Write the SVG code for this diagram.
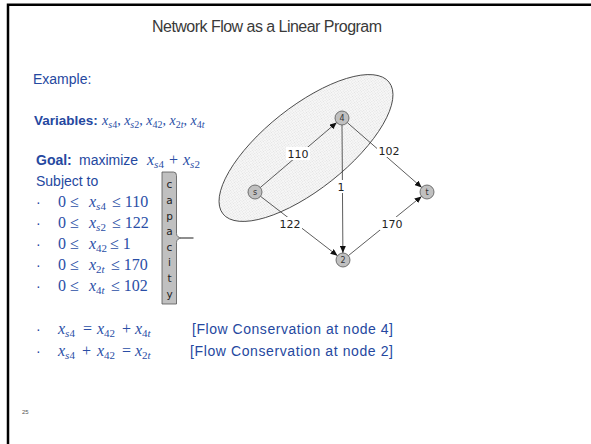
<svg xmlns="http://www.w3.org/2000/svg" width="591" height="444" viewBox="0 0 591 444">
<style>
.t{font-family:"Liberation Sans",Arial,sans-serif;font-size:14px;fill:#2548a0}
.b{font-weight:bold}
.m{font-family:"Liberation Serif","Times New Roman",serif;font-size:16px;fill:#2a4ea6}
.v{font-family:"Liberation Serif","Times New Roman",serif;font-size:14px;fill:#2a4ea6}
.i{font-style:italic}
.s{font-size:11px}
.vs{font-size:10px}
.edge{stroke:#333;stroke-width:0.8;fill:none;marker-end:url(#arr)}
.node circle{fill:#c0c0c0;stroke:#555;stroke-width:0.8}
.nl{font-family:"DejaVu Sans",sans-serif;font-size:8px;fill:#333;text-anchor:middle}
.el{font-family:"DejaVu Sans",sans-serif;font-size:11px;fill:#222;text-anchor:middle}
.cap{font-family:"DejaVu Sans",sans-serif;font-size:10.5px;fill:#222;text-anchor:middle}
</style>
<defs>
<marker id="arr" markerWidth="7" markerHeight="6" refX="7" refY="3" orient="auto" markerUnits="userSpaceOnUse">
<path d="M0,0 L7,3 L0,6 z" fill="#111"/>
</marker>
<pattern id="dots" width="2" height="2" patternUnits="userSpaceOnUse">
<rect width="2" height="2" fill="#f7f7f7"/>
<rect width="1" height="1" fill="#e0e0e0"/>
</pattern>
</defs>
<rect width="591" height="444" fill="#fff"/>
<path d="M8,444 V4.8 H591" fill="none" stroke="#000" stroke-width="2.5"/>
<text x="267" y="32" text-anchor="middle" textLength="230" lengthAdjust="spacing" style="font-family:'Liberation Sans',Arial,sans-serif;font-size:16px;fill:#3a3a3a">Network Flow as a Linear Program</text>
<text class="t" x="33" y="84">Example:</text>
<text y="125"><tspan class="t b" x="34" style="font-size:13.5px">Variables:</tspan><tspan class="v i" x="102">x</tspan><tspan class="v vs i" dy="3">s</tspan><tspan class="v vs">4</tspan><tspan class="v" dy="-3">, </tspan><tspan class="v i">x</tspan><tspan class="v vs i" dy="3">s</tspan><tspan class="v vs">2</tspan><tspan class="v" dy="-3">, </tspan><tspan class="v i">x</tspan><tspan class="v vs" dy="3">42</tspan><tspan class="v" dy="-3">, </tspan><tspan class="v i">x</tspan><tspan class="v vs" dy="3">2</tspan><tspan class="v vs i">t</tspan><tspan class="v" dy="-3">, </tspan><tspan class="v i">x</tspan><tspan class="v vs" dy="3">4</tspan><tspan class="v vs i">t</tspan></text>
<text y="165"><tspan class="t b" x="36">Goal:</tspan><tspan class="t" x="79">maximize</tspan><tspan class="m i" x="147">x</tspan><tspan class="m s i" dy="3">s</tspan><tspan class="m s">4</tspan><tspan class="m" x="169" dy="-3">+</tspan><tspan class="m i" x="183">x</tspan><tspan class="m s i" dy="3">s</tspan><tspan class="m s">2</tspan></text>
<text class="t" x="36" y="186">Subject to</text>
<g id="constraints">
<text class="t" x="36" y="207">·</text>
<text class="m" y="207"><tspan x="58">0 ≤</tspan><tspan x="89" class="i">x</tspan><tspan class="s i" dy="3">s</tspan><tspan class="s">4</tspan><tspan x="112" dy="-3">≤ 110</tspan></text>
<text class="t" x="36" y="228">·</text>
<text class="m" y="228"><tspan x="58">0 ≤</tspan><tspan x="89" class="i">x</tspan><tspan class="s i" dy="3">s</tspan><tspan class="s">2</tspan><tspan x="112" dy="-3">≤ 122</tspan></text>
<text class="t" x="36" y="249">·</text>
<text class="m" y="249"><tspan x="58">0 ≤</tspan><tspan x="89" class="i">x</tspan><tspan class="s" dy="3">42</tspan><tspan x="110" dy="-3">≤ 1</tspan></text>
<text class="t" x="36" y="270">·</text>
<text class="m" y="270"><tspan x="58">0 ≤</tspan><tspan x="89" class="i">x</tspan><tspan class="s" dy="3">2</tspan><tspan class="s i">t</tspan><tspan x="111" dy="-3">≤ 170</tspan></text>
<text class="t" x="36" y="291">·</text>
<text class="m" y="291"><tspan x="58">0 ≤</tspan><tspan x="89" class="i">x</tspan><tspan class="s" dy="3">4</tspan><tspan class="s i">t</tspan><tspan x="111" dy="-3">≤ 102</tspan></text>
</g>
<g id="capacity">
<path d="M162,172 H173.5 Q176.5,172 176.5,175.5 V233.5 Q176.5,237.5 182,238 Q176.5,238.5 176.5,242.5 V304 H162 Z" fill="#c0c0c0" stroke="#555" stroke-width="0.8"/>
<line x1="182" y1="238" x2="193.5" y2="238" stroke="#444" stroke-width="1.2"/>
<text class="cap" x="169.5" y="188">c</text>
<text class="cap" x="169.5" y="204">a</text>
<text class="cap" x="169.5" y="220">p</text>
<text class="cap" x="169.5" y="235">a</text>
<text class="cap" x="169.5" y="251">c</text>
<text class="cap" x="169.5" y="266">i</text>
<text class="cap" x="169.5" y="282">t</text>
<text class="cap" x="169.5" y="298">y</text>
</g>
<g id="set4">
<ellipse cx="306" cy="148" rx="106" ry="41.5" transform="rotate(-38.4 306 148)" fill="url(#dots)" stroke="#333" stroke-width="0.8"/>
</g>
<g id="connectors">
<line class="edge" x1="260.3" y1="187.5" x2="336.7" y2="122.5"/>
<line class="edge" x1="342" y1="125" x2="342.9" y2="253"/>
<line class="edge" x1="347.3" y1="122.6" x2="421.7" y2="187.4"/>
<line class="edge" x1="260.5" y1="196.3" x2="337.5" y2="255.7"/>
<line class="edge" x1="348.4" y1="255.6" x2="421.6" y2="196.4"/>
<rect x="286" y="147" width="24" height="13" fill="#fff"/>
<text class="el" x="298" y="158">110</text>
<rect x="377" y="144" width="24" height="13" fill="#fff"/>
<text class="el" x="389" y="155">102</text>
<rect x="337" y="180" width="8" height="13" fill="#fff"/>
<text class="el" x="341" y="191">1</text>
<rect x="278" y="217" width="24" height="13" fill="#fff"/>
<text class="el" x="290" y="228">122</text>
<rect x="380" y="217" width="24" height="13" fill="#fff"/>
<text class="el" x="392" y="228">170</text>
</g>
<g id="node-s" class="node"><circle cx="255" cy="192" r="7"/><text class="nl" x="255" y="195">s</text></g>
<g id="node-4" class="node"><circle cx="342" cy="118" r="7"/><text class="nl" x="342" y="121">4</text></g>
<g id="node-t" class="node"><circle cx="427" cy="192" r="7"/><text class="nl" x="427" y="195">t</text></g>
<g id="node-2" class="node"><circle cx="343" cy="260" r="7"/><text class="nl" x="343" y="263">2</text></g>
<g id="conservation">
<text class="t" x="36" y="334">·</text>
<text class="m" y="334"><tspan x="58" class="i">x</tspan><tspan class="s i" dy="3">s</tspan><tspan class="s">4</tspan><tspan x="83" dy="-3">=</tspan><tspan x="97" class="i">x</tspan><tspan class="s" dy="3">42</tspan><tspan x="122" dy="-3">+</tspan><tspan x="135" class="i">x</tspan><tspan class="s" dy="3">4</tspan><tspan class="s i">t</tspan></text>
<text class="t" x="192" y="334" textLength="201" lengthAdjust="spacing">[Flow Conservation at node 4]</text>
<text class="t" x="36" y="356">·</text>
<text class="m" y="356"><tspan x="58" class="i">x</tspan><tspan class="s i" dy="3">s</tspan><tspan class="s">4</tspan><tspan x="82" dy="-3">+</tspan><tspan x="97" class="i">x</tspan><tspan class="s" dy="3">42</tspan><tspan x="122" dy="-3">=</tspan><tspan x="135" class="i">x</tspan><tspan class="s" dy="3">2</tspan><tspan class="s i">t</tspan></text>
<text class="t" x="190" y="356" textLength="203" lengthAdjust="spacing">[Flow Conservation at node 2]</text>
</g>
<text x="22" y="414" style="font-family:'Liberation Sans',Arial,sans-serif;font-size:6px;fill:#555">25</text>
</svg>
